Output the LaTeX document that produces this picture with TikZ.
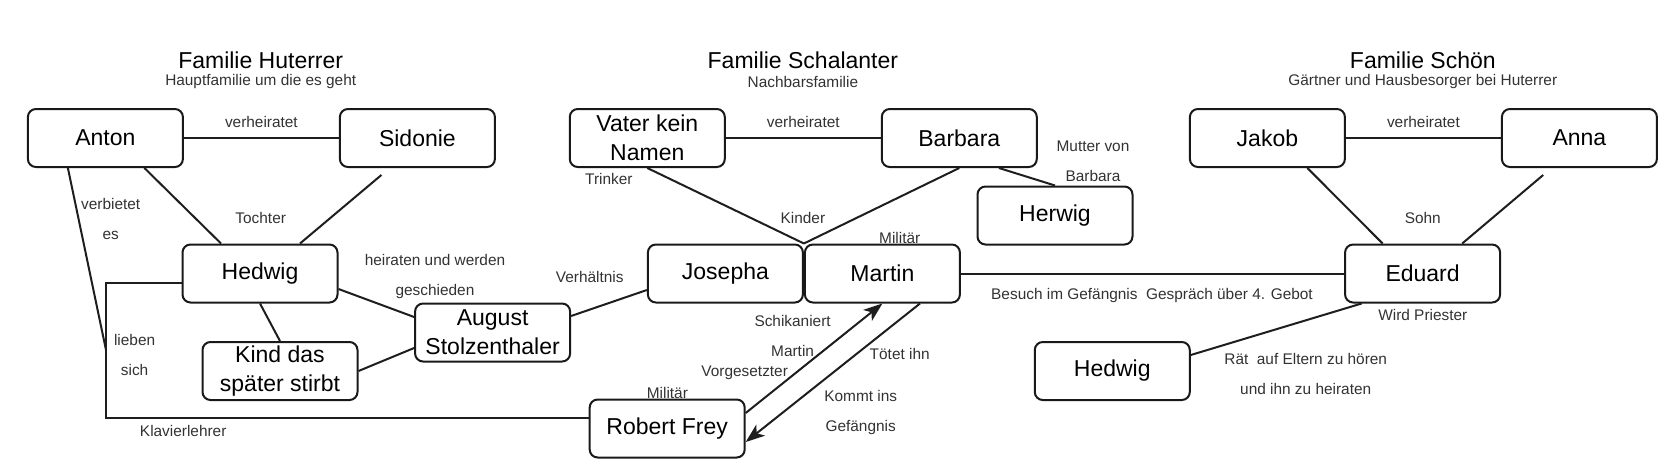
\documentclass[tikz,border=0pt]{standalone}
\usepackage{fontspec}
\setmainfont{Liberation Sans}
\usetikzlibrary{positioning,arrows.meta}
\definecolor{BoxLine}{RGB}{25,25,25}
\definecolor{LinkGray}{RGB}{30,30,30}
\definecolor{LabelGray}{RGB}{50,50,50}
\tikzset{
  personbox/.style={
    draw=BoxLine,
    line width=2pt,
    rounded corners=8pt,
    minimum width=155pt,
    minimum height=58pt,
    inner sep=3pt,
    align=center,
    font=\fontsize{23}{29}\selectfont
  },
  famtitle/.style={font=\fontsize{23}{27}\selectfont},
  famsub/.style={font=\fontsize{15.4}{18}\selectfont,text=LabelGray},
  rellabel/.style={font=\fontsize{15.4}{30}\selectfont,text=LabelGray,align=center},
  link/.style={line width=2pt,draw=LinkGray},
  arrow/.style={link,-{Stealth[length=19pt,width=14pt,inset=5pt]}}
}
\begin{document}
\begin{tikzpicture}[x=1pt,y=-1pt,node distance=155pt]
    \useasboundingbox (0,0) rectangle (1663,472);
    \node[famtitle] (titleH) at (260.7,60) {Familie Huterrer};
    \node[famsub] (subH) at (260.7,82) {Hauptfamilie um die es geht};
    \node[famtitle] (titleS) at (802.9,60) {Familie Schalanter};
    \node[famsub] (subS) at (802.9,82) {Nachbarsfamilie};
    \node[famtitle] (titleC) at (1422.8,60) {Familie Schön};
    \node[famsub] (subC) at (1422.8,82) {Gärtner und Hausbesorger bei Huterrer};
    \node[personbox] (anton) at (105.4,138) {Anton};
    \node[personbox,right=of anton] (sidonie) {Sidonie};
    \node[personbox] (hedwig) at (260,273.5) {Hedwig};
    \node[personbox] (kind) at (280,371) {Kind das\\später stirbt};
    \node[personbox] (august) at (492.6,332.5) {August\\Stolzenthaler};
    \node[personbox] (vater) at (647.3,138) {Vater kein\\Namen};
    \node[personbox,right=of vater] (barbara) {Barbara};
    \node[personbox] (herwig) at (1055,215.5) {Herwig};
    \node[personbox] (josepha) at (725.4,273.5) {Josepha};
    \node[personbox,right=0pt of josepha] (martin) {Martin};
    \node[personbox] (robert) at (667.2,428.5) {Robert Frey};
    \node[personbox] (jakob) at (1267.4,138) {Jakob};
    \node[personbox,right=of jakob] (anna) {Anna};
    \node[personbox] (eduard) at (1422.6,273.5) {Eduard};
    \node[personbox] (hedwigS) at (1112.3,371) {Hedwig};
    \coordinate (meet) at (106,350);
    \coordinate (klav) at (106,418);
    \draw[link] (anton) -- node[rellabel,above=6pt] (verhH) {verheiratet} (sidonie);
    \draw[link] ([xshift=39pt]anton.south) -- ([xshift=-39pt]hedwig.north);
    \draw[link] ([xshift=-36pt,yshift=-7pt]sidonie.south) -- ([xshift=40pt]hedwig.north);
    \draw[link] ([xshift=-37.5pt]anton.south) -- (meet);
    \draw[link] ([yshift=-9.5pt]hedwig.west) -| (klav) -- ([yshift=10.5pt]robert.west);
    \draw[link] ([yshift=-15.5pt]hedwig.east) -- ([yshift=15.5pt]august.west);
    \draw[link] (hedwig.south) -- (kind.north);
    \draw[link] (kind.east) -- ([yshift=-15.5pt]august.west);
    \draw[link] ([yshift=16.5pt]august.east) -- ([yshift=-16.5pt]josepha.west);
    \draw[link] (vater) -- node[rellabel,above=6pt] (verhS) {verheiratet} (barbara);
    \draw[link] (vater.south) -- (martin.north west);
    \draw[link] (barbara.south) -- (martin.north west);
    \draw[link] ([xshift=39.6pt]barbara.south) -- (herwig.north);
    \draw[link] (martin) -- (eduard);
    \draw[arrow] ([yshift=15.5pt]robert.east) -- (martin.south);
    \draw[arrow] ([xshift=37.6pt]martin.south) -- ([yshift=-13.5pt]robert.east);
    \draw[link] (jakob) -- node[rellabel,above=6pt] (verhC) {verheiratet} (anna);
    \draw[link] ([xshift=40pt]jakob.south) -- ([xshift=-40pt]eduard.north);
    \draw[link] ([xshift=-36.2pt,yshift=-7pt]anna.south) -- ([xshift=39.6pt]eduard.north);
    \draw[link] ([xshift=-61pt]eduard.south) -- ([yshift=16pt]hedwigS.east);
    \node[rellabel] (tochter) at (260.7,218) {Tochter};
    \node[rellabel] (verbietet) at (110.7,219) {verbietet\\es};
    \node[rellabel] (lieben) at (134.6,355) {lieben\\sich};
    \node[rellabel] (klavier) at (183.2,431) {Klavierlehrer};
    \node[rellabel] (heiraten) at (435,277) {heiraten und werden\\geschieden};
    \node[rellabel] (verhaeltnis) at (589.7,277) {Verhältnis};
    \node[rellabel] (trinker) at (608.9,179) {Trinker};
    \node[rellabel] (kinder) at (802.9,218) {Kinder};
    \node[rellabel] (mutter) at (1093,161.5) {Mutter von\\Barbara};
    \node[rellabel] (militaerM) at (899.7,238) {Militär};
    \node[rellabel] (militaerR) at (667.4,393) {Militär};
    \node[rellabel] (schikane) at (792.6,335.5) {Schikaniert\\Martin};
    \node[rellabel] (vorgesetzt) at (744.7,373) {Vorgesetzter};
    \node[rellabel] (toetet) at (899.7,354) {Tötet ihn};
    \node[rellabel] (kommt) at (860.7,413) {Kommt ins\\Gefängnis};
    \node[rellabel] (besuch) at (1152,296) {Besuch im Gefängnis\ \ Gespräch über 4. Gebot};
    \node[rellabel] (sohn) at (1422.8,218) {Sohn};
    \node[rellabel] (priester) at (1422.8,315) {Wird Priester};
    \node[rellabel] (raet) at (1305.7,374) {Rät\ \ auf Eltern zu hören\\und ihn zu heiraten};
  \end{tikzpicture}
\end{document}
